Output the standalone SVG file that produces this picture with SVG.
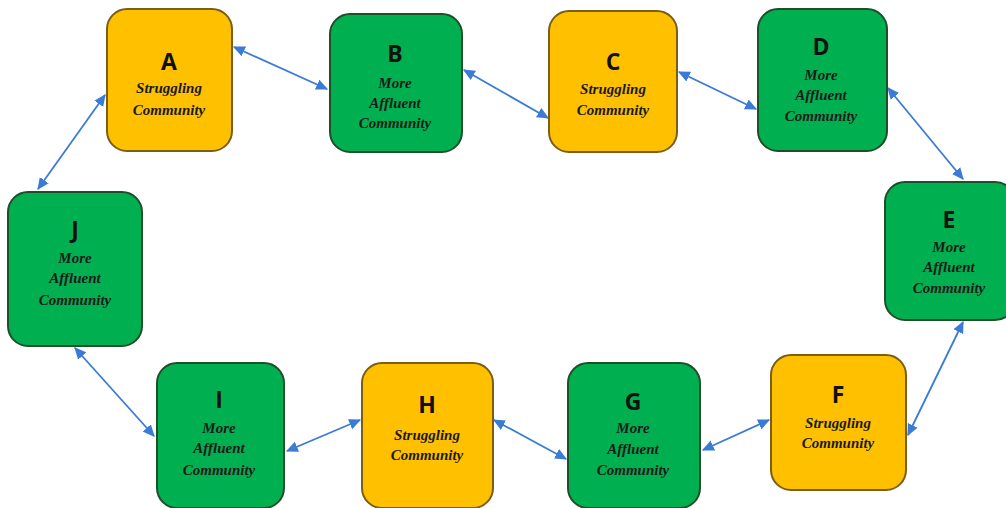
<svg xmlns="http://www.w3.org/2000/svg" width="1006" height="508" viewBox="0 0 1006 508">
<style>
.y{fill:#FFC000;stroke:#7A5E14;stroke-width:2}
.g{fill:#00B050;stroke:#1F4E2A;stroke-width:2}
.L{font-family:"Open Sans","Liberation Sans",sans-serif;font-weight:bold;font-size:23px;fill:#111;text-anchor:middle}
.s{font-family:"Liberation Serif",serif;font-weight:bold;font-style:italic;font-size:15px;fill:#1a1a1a;text-anchor:middle}
.c{stroke:#3A7BD5;stroke-width:1.8;fill:none;marker-start:url(#ah);marker-end:url(#ah)}
</style>
<defs>
<marker id="ah" viewBox="0 0 10 10" refX="9" refY="5" markerWidth="12" markerHeight="12" markerUnits="userSpaceOnUse" orient="auto-start-reverse">
<path d="M0,0.5 L10,5 L0,9.5 z" fill="#3A7BD5"/>
</marker>
</defs>
<rect width="1006" height="508" fill="#fff"/>
<g id="connectors">
<line class="c" x1="234" y1="47" x2="327" y2="89"/>
<line class="c" x1="464" y1="70" x2="548" y2="118"/>
<line class="c" x1="679" y1="72" x2="756" y2="109"/>
<line class="c" x1="888" y1="88" x2="963" y2="179"/>
<line class="c" x1="963" y1="322" x2="908" y2="435"/>
<line class="c" x1="769" y1="420" x2="703" y2="450"/>
<line class="c" x1="566" y1="459" x2="494" y2="420"/>
<line class="c" x1="360" y1="420" x2="287" y2="451"/>
<line class="c" x1="154" y1="436" x2="75" y2="348"/>
<line class="c" x1="38" y1="189" x2="105" y2="95"/>
</g>
<g id="A">
<rect class="y" x="107" y="9" width="125" height="142" rx="20"/>
<text class="L" x="169" y="70">A</text>
<text class="s" x="169" y="93">Struggling</text>
<text class="s" x="169" y="115">Community</text>
</g>
<g id="B">
<rect class="g" x="330" y="14" width="132" height="138" rx="20"/>
<text class="L" x="395" y="62">B</text>
<text class="s" x="395" y="88">More</text>
<text class="s" x="395" y="108">Affluent</text>
<text class="s" x="395" y="128">Community</text>
</g>
<g id="C">
<rect class="y" x="549" y="11" width="128" height="141" rx="20"/>
<text class="L" x="613" y="70">C</text>
<text class="s" x="613" y="94">Struggling</text>
<text class="s" x="613" y="115">Community</text>
</g>
<g id="D">
<rect class="g" x="758" y="9" width="129" height="142" rx="20"/>
<text class="L" x="821" y="55">D</text>
<text class="s" x="821" y="80">More</text>
<text class="s" x="821" y="100">Affluent</text>
<text class="s" x="821" y="121">Community</text>
</g>
<g id="E">
<rect class="g" x="885" y="182" width="130" height="138" rx="20"/>
<text class="L" x="949" y="228">E</text>
<text class="s" x="949" y="252">More</text>
<text class="s" x="949" y="272">Affluent</text>
<text class="s" x="949" y="293">Community</text>
</g>
<g id="F">
<rect class="y" x="771" y="355" width="135" height="135" rx="20"/>
<text class="L" x="838" y="403">F</text>
<text class="s" x="838" y="428">Struggling</text>
<text class="s" x="838" y="448">Community</text>
</g>
<g id="G">
<rect class="g" x="568" y="363" width="132" height="145" rx="20"/>
<text class="L" x="633" y="410">G</text>
<text class="s" x="633" y="433">More</text>
<text class="s" x="633" y="454">Affluent</text>
<text class="s" x="633" y="475">Community</text>
</g>
<g id="H">
<rect class="y" x="362" y="363" width="131" height="145" rx="20"/>
<text class="L" x="427" y="413">H</text>
<text class="s" x="427" y="440">Struggling</text>
<text class="s" x="427" y="460">Community</text>
</g>
<g id="I">
<rect class="g" x="157" y="363" width="127" height="145" rx="20"/>
<text class="L" x="219" y="408">I</text>
<text class="s" x="219" y="433">More</text>
<text class="s" x="219" y="453">Affluent</text>
<text class="s" x="219" y="475">Community</text>
</g>
<g id="J">
<rect class="g" x="8" y="192" width="134" height="154" rx="20"/>
<text class="L" x="75" y="238">J</text>
<text class="s" x="75" y="263">More</text>
<text class="s" x="75" y="283">Affluent</text>
<text class="s" x="75" y="305">Community</text>
</g>
</svg>
